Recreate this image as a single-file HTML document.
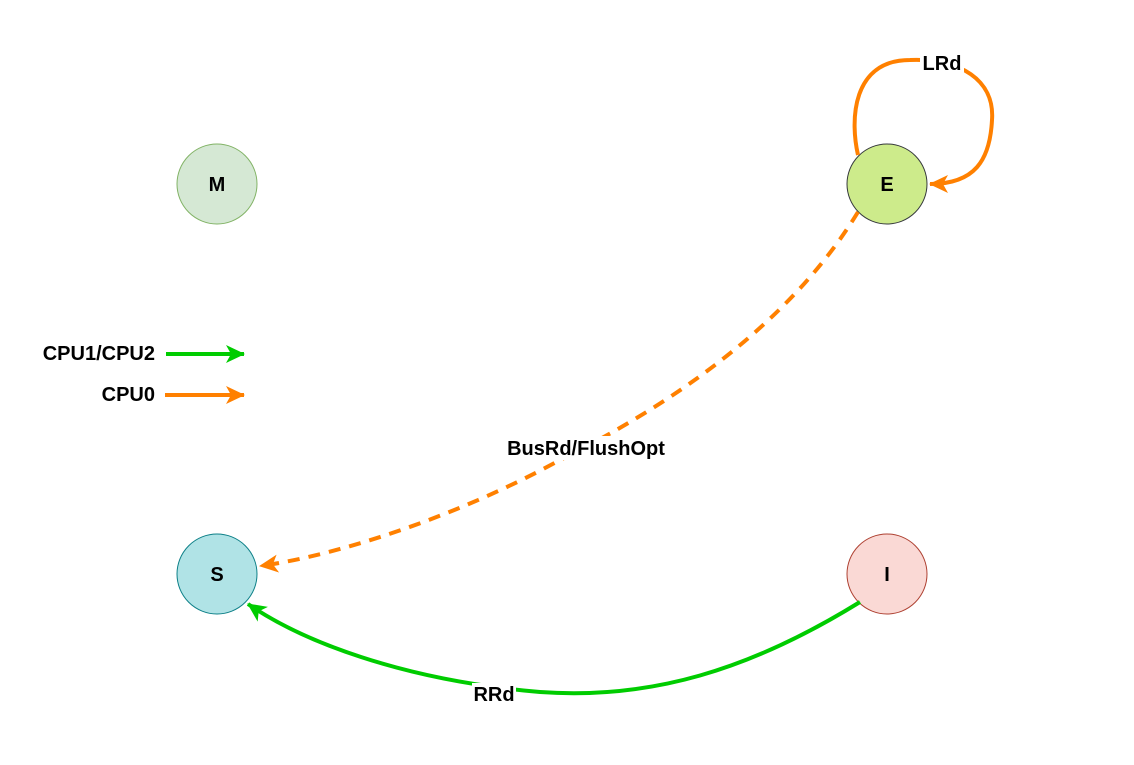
<!DOCTYPE html>
<html><head><meta charset="utf-8"><style>
body{margin:0;background:#fff;}
svg{display:block;font-family:"Liberation Sans",Arial,sans-serif;font-weight:bold;}
</style></head><body>
<svg width="1134" height="765" viewBox="0 0 1134 765">
<defs>
<marker id="ao2" markerWidth="20" markerHeight="20" refX="18" refY="9" orient="auto" markerUnits="userSpaceOnUse"><path d="M0,0 L19,9 L0,18 L5,9 Z" fill="#ff8000"/></marker>
<marker id="ag2" markerWidth="20" markerHeight="20" refX="18" refY="9" orient="auto" markerUnits="userSpaceOnUse"><path d="M0,0 L19,9 L0,18 L5,9 Z" fill="#00cc00"/></marker>
</defs>
<circle cx="217" cy="184" r="40" fill="#d5e8d4" stroke="#82b366"/>
<text x="217" y="191" text-anchor="middle" font-size="20">M</text>
<circle cx="887" cy="184" r="40" fill="#cdeb8b" stroke="#36393d"/>
<text x="887" y="191" text-anchor="middle" font-size="20">E</text>
<circle cx="217" cy="574" r="40" fill="#b0e3e6" stroke="#0e8088"/>
<text x="217" y="581" text-anchor="middle" font-size="20">S</text>
<circle cx="887" cy="574" r="40" fill="#fad9d5" stroke="#ae4132"/>
<text x="887" y="581" text-anchor="middle" font-size="20">I</text>
<path d="M858,155 C850,120 852,60 910,60 C960,58 995,80 992,120 C990,160 975,184 930,184" fill="none" stroke="#ff8000" stroke-width="4" marker-end="url(#ao2)"/>
<rect x="920" y="52" width="44" height="22" fill="#fff"/>
<text x="942" y="70" text-anchor="middle" font-size="20">LRd</text>
<path d="M858,212 C780,340 640,420 560,460 C460,515 340,555 260,566" fill="none" stroke="#ff8000" stroke-width="4" stroke-dasharray="12,9" marker-end="url(#ao2)"/>
<rect x="506" y="436" width="160" height="24" fill="#fff"/>
<text x="586" y="455" text-anchor="middle" font-size="20">BusRd/FlushOpt</text>
<path d="M860,602 C750,670 650,700 540,692 C400,680 300,640 248,604" fill="none" stroke="#00cc00" stroke-width="4" marker-end="url(#ag2)"/>
<rect x="472" y="683" width="44" height="22" fill="#fff"/>
<text x="494" y="701" text-anchor="middle" font-size="20">RRd</text>
<text x="155" y="360" text-anchor="end" font-size="20">CPU1/CPU2</text>
<line x1="166" y1="354" x2="244" y2="354" stroke="#00cc00" stroke-width="4" marker-end="url(#ag2)"/>
<text x="155" y="401" text-anchor="end" font-size="20">CPU0</text>
<line x1="165" y1="395" x2="244" y2="395" stroke="#ff8000" stroke-width="4" marker-end="url(#ao2)"/>
</svg>
</body></html>
